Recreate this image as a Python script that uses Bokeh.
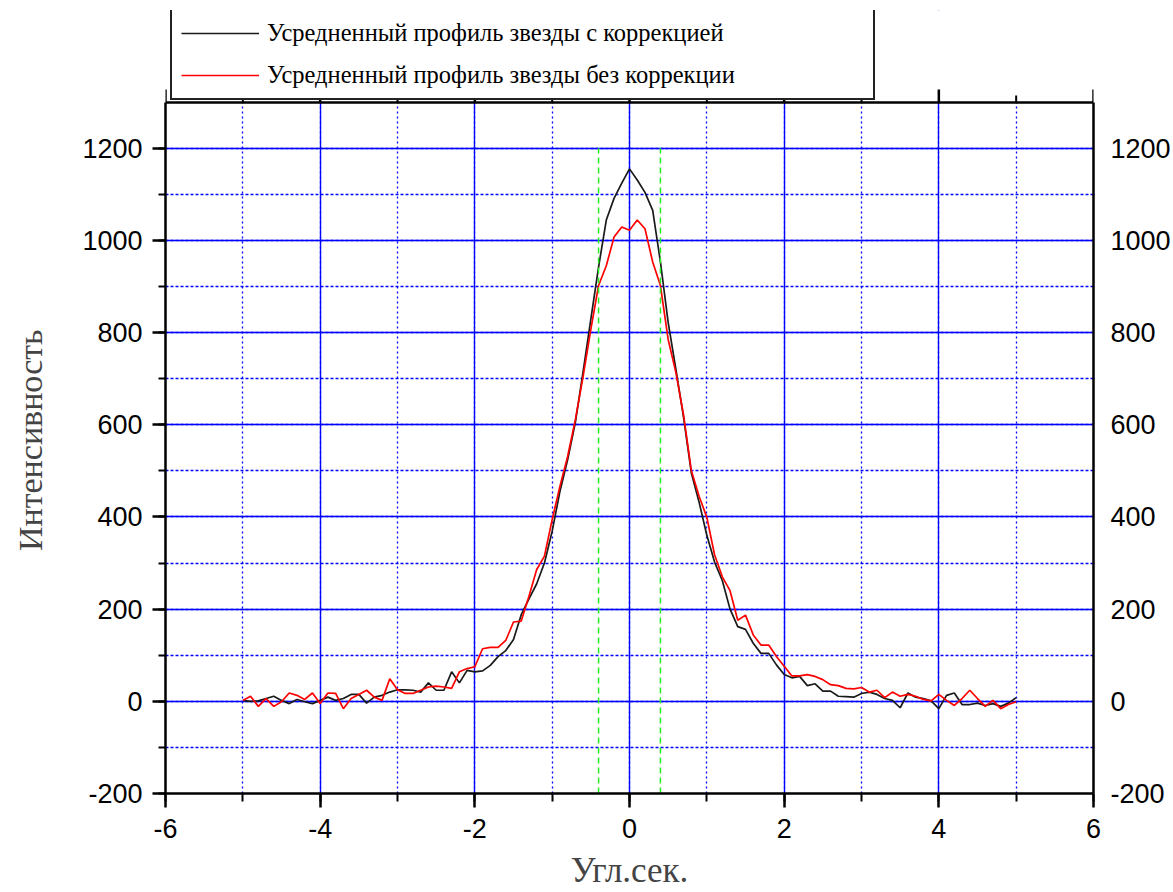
from bokeh.plotting import figure
from bokeh.models import (Range1d, LinearAxis, SingleIntervalTicker, Legend, LegendItem,
                          CustomJSTickFormatter, ColumnDataSource, Grid)
from bokeh.embed import file_html
from bokeh.resources import INLINE

# angular offset, arcsec (sampling grid 0.1")
x_arcsec = [round(-5.0 + 0.1 * i, 1) for i in range(101)]

# averaged star profile with correction
with_correction = [
    2, 0, 1, 6, 11, 2, -5, 4, -1, -5,
    2, 9, 2, 6, 15, 15, -4, 9, 13, 20,
    25, 25, 24, 20, 40, 24, 24, 64, 40, 67,
    64, 66, 78, 97, 110, 134, 188, 222, 255, 300,
    369, 455, 524, 605, 715, 829, 942, 1044, 1091, 1124,
    1155,
    1131, 1104, 1065, 953, 822, 720, 615, 495, 432, 360,
    302, 262, 200, 162, 156, 126, 104, 104, 79, 58,
    51, 54, 34, 38, 22, 22, 11, 10, 9, 17,
    20, 15, 6, 2, -14, 18, 9, 6, 1, -16,
    13, 18, -7, -7, -4, -9, -5, -11, -4, 8,
]

# averaged star profile without correction
without_correction = [
    2, 11, -11, 6, -11, -1, 18, 13, 4, 18,
    -5, 18, 17, -16, 6, 15, 24, 9, 2, 49,
    25, 17, 17, 24, 31, 33, 31, 28, 64, 71,
    75, 114, 117, 117, 132, 172, 174, 228, 286, 315,
    394, 466, 531, 611, 705, 807, 902, 945, 1007, 1029,
    1022,
    1044, 1025, 953, 902, 785, 713, 620, 500, 445, 399,
    318, 270, 240, 176, 187, 144, 122, 122, 97, 76,
    55, 55, 58, 54, 47, 36, 34, 28, 27, 30,
    20, 24, 8, 20, 11, 15, 11, 4, 1, 15,
    2, -9, 6, 24, 6, -11, 2, -16, -7, -1,
]

# green dashed markers
marker_x = [-0.4, 0.4]
marker_y0 = [-200, -200]
marker_y1 = [1200, 1200]

# top-edge tick positions (x axis ticks mirrored on the upper border)
top_major_ticks = [-6, -4, -2, 0, 2, 4, 6]
top_minor_ticks = [-5, -3, -1, 1, 3, 5]

labels = ["Усредненный профиль звезды с коррекцией",
          "Усредненный профиль звезды без коррекции"]
x_title = "Угл.сек."
y_title = "Интенсивность"

# axis extents
X_MIN, X_MAX = -6, 6
Y_MIN, Y_MAX = -200, 1299

W, H = 1173, 892
FRAME_L, FRAME_R, FRAME_B = 165, 1095, 793
AXIS_TOP_PX = 102      # where the plotting box ends
CANVAS_TOP_PX = 10     # frame extends up here to host the legend
units_per_px = (Y_MAX - Y_MIN) / (FRAME_B - AXIS_TOP_PX)
Y_RANGE_END = Y_MAX + (AXIS_TOP_PX - CANVAS_TOP_PX) * units_per_px

p = figure(width=W, height=H, output_backend="svg", toolbar_location=None,
           x_range=Range1d(X_MIN, X_MAX), y_range=Range1d(Y_MIN, Y_RANGE_END),
           x_axis_location=None, y_axis_location=None,
           min_border_left=FRAME_L, min_border_right=W - FRAME_R,
           min_border_top=CANVAS_TOP_PX, min_border_bottom=H - FRAME_B,
           background_fill_color="white", border_fill_color="white")
p.outline_line_color = None

xt = SingleIntervalTicker(interval=2, num_minor_ticks=2)
yt = SingleIntervalTicker(interval=200, num_minor_ticks=2)

tick_font = "Liberation Sans"
tick_size = "27px"

def style_axis(ax):
    ax.formatter = CustomJSTickFormatter(code="return tick.toFixed(0)")
    ax.axis_line_color = "black"
    ax.axis_line_width = 2.5
    ax.major_tick_line_color = "black"
    ax.major_tick_line_width = 2.5
    ax.minor_tick_line_color = "black"
    ax.minor_tick_line_width = 2
    ax.major_tick_in = 0
    ax.minor_tick_in = 0
    ax.major_label_text_font = tick_font
    ax.major_label_text_font_size = tick_size
    ax.major_label_text_color = "black"

bottom = LinearAxis(ticker=xt, axis_label=x_title)
style_axis(bottom)
bottom.major_tick_out = 14
bottom.minor_tick_out = 8
bottom.major_label_standoff = 11
bottom.axis_label_text_font = "Liberation Serif"
bottom.axis_label_text_font_size = "35px"
bottom.axis_label_text_font_style = "normal"
bottom.axis_label_standoff = 10
p.add_layout(bottom, "below")

# the label is centred on the whole frame (which extends up under the legend);
# trailing no-break spaces move the visible words down to the plotting box centre
left = LinearAxis(ticker=yt, bounds=(Y_MIN, Y_MAX),
                  axis_label=y_title + "\u00a0" * 9)
style_axis(left)
left.major_tick_out = 13
left.minor_tick_out = 7
left.major_label_standoff = 10
left.axis_label_text_font = "Liberation Serif"
left.axis_label_text_font_size = "34px"
left.axis_label_text_font_style = "normal"
left.axis_label_standoff = 30
p.add_layout(left, "left")

right = LinearAxis(ticker=yt, bounds=(Y_MIN, Y_MAX))
style_axis(right)
right.major_tick_out = 0
right.minor_tick_out = 0
right.major_label_standoff = 17
p.add_layout(right, "right")

# grids
xg = Grid(dimension=0, ticker=xt)
yg = Grid(dimension=1, ticker=yt)
for g, dash in ((xg, "2 3"), (yg, "3 2")):
    g.grid_line_color = "#0000ff"
    g.grid_line_width = 1.4
    g.minor_grid_line_color = "#0000ff"
    g.minor_grid_line_width = 1.3
    g.minor_grid_line_dash = dash
    p.add_layout(g)

# blank out the area above the plotting box (legend lives there)
p.quad(left=[X_MIN], right=[X_MAX], bottom=[Y_MAX + 1], top=[Y_RANGE_END],
       fill_color="white", line_color=None)
# top border of the plotting box, with outward ticks
p.segment(x0=[X_MIN], x1=[X_MAX], y0=[Y_MAX], y1=[Y_MAX],
          line_color="black", line_width=2.5)
p.segment(x0=top_major_ticks, x1=top_major_ticks,
          y0=[Y_MAX] * len(top_major_ticks),
          y1=[Y_MAX + 13 * units_per_px] * len(top_major_ticks),
          line_color="black", line_width=2.5)
p.segment(x0=top_minor_ticks, x1=top_minor_ticks,
          y0=[Y_MAX] * len(top_minor_ticks),
          y1=[Y_MAX + 7 * units_per_px] * len(top_minor_ticks),
          line_color="black", line_width=2)

src = ColumnDataSource(dict(x=x_arcsec, a=with_correction, b=without_correction))
r_black = p.line("x", "a", source=src, line_color="#1a1a1a", line_width=1.7)
r_red = p.line("x", "b", source=src, line_color="#ff0000", line_width=1.7)

p.segment(x0=marker_x, x1=marker_x, y0=marker_y0, y1=marker_y1,
          line_color="#22ee22", line_width=1.5, line_dash="6 4")

legend = Legend(items=[LegendItem(label=labels[0], renderers=[r_black]),
                       LegendItem(label=labels[1], renderers=[r_red])],
                location=(5, FRAME_B - 100))
legend.margin = 0
legend.padding = 9
legend.spacing = 14
legend.glyph_width = 78
legend.glyph_height = 20
legend.label_height = 20
legend.label_width = 597
legend.label_standoff = 8
legend.label_text_font = "Liberation Serif"
legend.label_text_font_size = "24.5px"
legend.label_text_color = "black"
legend.border_line_color = "#222222"
legend.border_line_alpha = 1.0
legend.border_line_width = 2
legend.background_fill_color = "white"
legend.background_fill_alpha = 1.0
p.add_layout(legend)

open("out.html", "w").write(file_html(p, INLINE))
